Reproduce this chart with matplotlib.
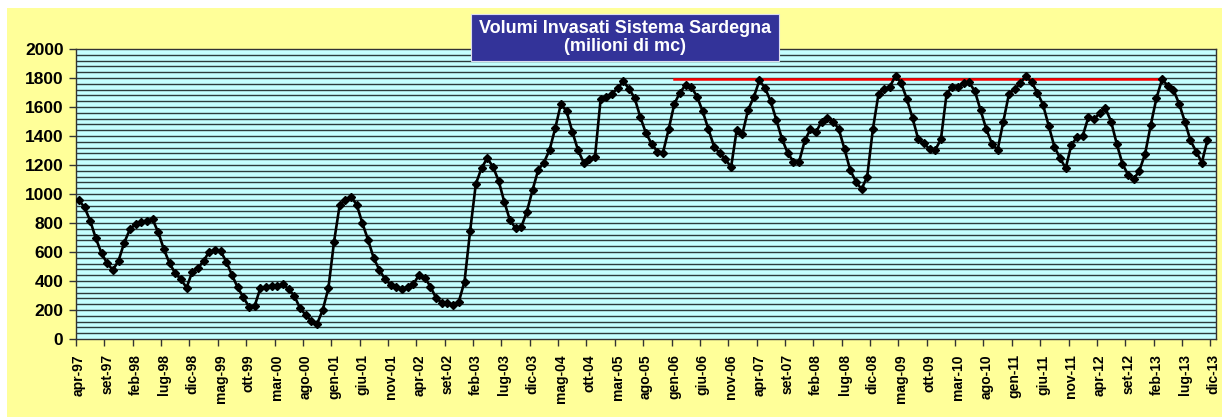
import numpy as np
import matplotlib
matplotlib.use('Agg')
import matplotlib.pyplot as plt
from matplotlib.patches import Rectangle

# monthly volumes (milioni di mc), apr-97 onwards
volumi = [
    958, 908, 816, 694, 591, 522, 476, 540, 664, 756,
    793, 809, 816, 825, 736, 618, 522, 453, 411, 354,
    464, 487, 540, 602, 614, 607, 533, 441, 356, 287,
    223, 228, 350, 361, 368, 368, 377, 343, 297, 212,
    166, 124, 104, 200, 350, 672, 925, 959, 982, 925,
    798, 683, 557, 476, 412, 373, 361, 343, 361, 380,
    442, 423, 361, 281, 250, 250, 235, 258, 396, 748,
    1070, 1178, 1247, 1189, 1093, 948, 821, 764, 771, 879,
    1028, 1166, 1217, 1304, 1454, 1622, 1569, 1431, 1304, 1217,
    1240, 1254, 1654, 1668, 1691, 1730, 1776, 1727, 1661, 1530,
    1419, 1346, 1293, 1286, 1447, 1622, 1700, 1753, 1737, 1672,
    1569, 1447, 1327, 1281, 1240, 1185, 1442, 1415, 1580, 1668,
    1783, 1730, 1638, 1507, 1378, 1281, 1224, 1224, 1369, 1447,
    1430, 1500, 1523, 1500, 1447, 1309, 1166, 1086, 1033, 1120,
    1447, 1691, 1723, 1741, 1815, 1764, 1654, 1523, 1378, 1350,
    1309, 1304, 1378, 1691, 1741, 1741, 1764, 1769, 1707, 1576,
    1447, 1346, 1306, 1500, 1691, 1723, 1764, 1815, 1769, 1700,
    1615, 1470, 1327, 1247, 1178, 1339, 1392, 1401, 1530, 1516,
    1557, 1592, 1500, 1346, 1208, 1132, 1102, 1162, 1277, 1477,
    1661, 1792, 1746, 1718, 1622, 1500, 1369, 1293, 1217, 1373,
]

# red reference level, gen-06 .. mar-13
soglia = 1795
soglia_da, soglia_a = 105, 191

n_mesi = 201  # categories on the axis, apr-97 .. dic-13

tick_labels = [
    'apr-97', 'set-97', 'feb-98', 'lug-98', 'dic-98', 'mag-99', 'ott-99',
    'mar-00', 'ago-00', 'gen-01', 'giu-01', 'nov-01', 'apr-02', 'set-02',
    'feb-03', 'lug-03', 'dic-03', 'mag-04', 'ott-04', 'mar-05', 'ago-05',
    'gen-06', 'giu-06', 'nov-06', 'apr-07', 'set-07', 'feb-08', 'lug-08',
    'dic-08', 'mag-09', 'ott-09', 'mar-10', 'ago-10', 'gen-11', 'giu-11',
    'nov-11', 'apr-12', 'set-12', 'feb-13', 'lug-13', 'dic-13',
]

plt.rcParams['font.family'] = ['Liberation Sans', 'DejaVu Sans']

W, H = 1225, 417
fig = plt.figure(figsize=(W / 100, H / 100), dpi=100, facecolor='white')
# yellow chart area (behind the axes)
fig.patches.append(Rectangle((7 / W, 0), (1222 - 7) / W, (H - 8) / H,
                             transform=fig.transFigure, facecolor='#FFFF99',
                             edgecolor='none', zorder=-10))

ax = fig.add_axes([76 / W, (H - 339) / H, (1216 - 76) / W, (339 - 49) / H])
ax.set_facecolor('#C4FFFF')

x = np.arange(len(volumi)) + 0.5
ax.plot(x, volumi, color='black', lw=1.9, marker='D', ms=4.2, zorder=3)

xr = np.arange(soglia_da, soglia_a + 1) + 0.5
ax.plot(xr, [soglia] * len(xr), color='#FF0000', lw=1.8, zorder=2)

ax.set_xlim(0, n_mesi)
ax.set_ylim(0, 2000)

# horizontal grid every 40
for yy in np.arange(40, 2000, 40):
    ax.axhline(yy, color='#2c3c3c', lw=1.0, zorder=1)

ax.set_yticks(np.arange(0, 2001, 200))
ax.set_yticklabels([str(v) for v in range(0, 2001, 200)],
                   fontsize=12.5, fontweight='bold')
ax.tick_params(axis='y', length=5, width=1, color='#333333', pad=4)

# tick marks on category boundaries, labels on the categories
ax.set_xticks(np.arange(0, n_mesi, 5), minor=True)
ax.set_xticks(np.arange(0, n_mesi, 5) + 0.5)
ax.set_xticklabels(tick_labels, rotation=90, fontsize=10, fontweight='bold')
ax.tick_params(axis='x', which='major', length=0, pad=11)
ax.tick_params(axis='x', which='minor', length=5, width=1, color='#333333')

for s in ax.spines.values():
    s.set_color('#333333')
    s.set_linewidth(1.0)

# title box
fig.patches.append(Rectangle((471 / W, (H - 61) / H), (779 - 471) / W, 47 / H,
                             transform=fig.transFigure, facecolor='#333399',
                             edgecolor='#DDDDEE', lw=0.8, zorder=5))
fig.text(625 / W, (H - 37.5) / H, 'Volumi Invasati Sistema Sardegna\n(milioni di mc)',
         ha='center', va='center', color='white', fontsize=13, fontweight='bold',
         linespacing=1.1, zorder=6)

fig.savefig('out.png', dpi=100, facecolor='white')
